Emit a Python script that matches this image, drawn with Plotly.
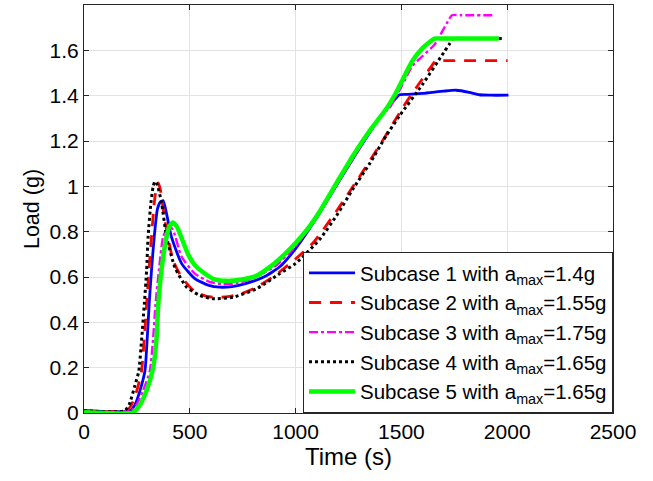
import plotly.graph_objects as go

# Subcase 1 (blue solid)
t1 = [0, 217, 241, 265, 288, 299, 308, 319, 332, 347, 360, 374, 390, 413, 461, 524, 590, 641, 700, 767, 850, 925, 1000, 1100, 1200, 1300, 1400, 1470, 1491, 1520, 1600, 1700, 1758, 1820, 1868, 1920, 2006]
y1 = [0.01, 0.01, 0.037, 0.1, 0.185, 0.333, 0.48, 0.63, 0.778, 0.9, 0.93, 0.937, 0.88, 0.778, 0.66, 0.593, 0.563, 0.555, 0.558, 0.572, 0.60, 0.645, 0.725, 0.862, 1.015, 1.165, 1.305, 1.385, 1.404, 1.406, 1.41, 1.42, 1.424, 1.415, 1.404, 1.402, 1.402]

# Subcase 2 (red dashed)
t2 = [0, 200, 225, 250, 272, 285, 296, 307, 319, 332, 342, 351, 362, 382, 421, 461, 524, 580, 630, 680, 740, 815, 900, 1000, 1082, 1200, 1300, 1400, 1522, 1600, 1640, 1663, 1700, 2002]
y2 = [0.01, 0.01, 0.037, 0.1, 0.185, 0.333, 0.48, 0.63, 0.778, 0.926, 0.995, 1.015, 0.98, 0.85, 0.674, 0.6, 0.535, 0.515, 0.51, 0.513, 0.525, 0.555, 0.605, 0.68, 0.75, 0.9, 1.04, 1.185, 1.37, 1.475, 1.527, 1.555, 1.555, 1.555]

# Subcase 3 (magenta dash-dot)
t3 = [0, 224, 248, 280, 311, 327, 338, 354, 374, 392, 406, 420, 461, 524, 590, 657, 720, 800, 900, 1000, 1100, 1200, 1300, 1400, 1443, 1500, 1553, 1600, 1656, 1715, 1739, 1780, 1939]
y3 = [0.01, 0.01, 0.037, 0.1, 0.185, 0.333, 0.48, 0.63, 0.778, 0.81, 0.82, 0.81, 0.69, 0.615, 0.58, 0.568, 0.572, 0.595, 0.645, 0.735, 0.865, 1.015, 1.165, 1.31, 1.345, 1.44, 1.532, 1.575, 1.625, 1.72, 1.755, 1.755, 1.755]

# Subcase 4 (black dotted)
t4 = [0, 193, 215, 240, 259, 272, 285, 296, 303, 316, 327, 335, 345, 366, 390, 429, 484, 547, 610, 704, 815, 925, 1000, 1113, 1200, 1270, 1350, 1428, 1491, 1600, 1700, 1725, 1745, 1790, 1985]
y4 = [0.01, 0.01, 0.04, 0.12, 0.185, 0.32, 0.48, 0.63, 0.778, 0.926, 1.0, 1.022, 1.01, 0.93, 0.778, 0.644, 0.556, 0.519, 0.504, 0.511, 0.548, 0.615, 0.66, 0.765, 0.88, 0.987, 1.10, 1.223, 1.311, 1.45, 1.59, 1.625, 1.652, 1.652, 1.652]

# Subcase 5 (green)
t5 = [0, 233, 264, 300, 327, 343, 351, 366, 390, 405, 421, 440, 492, 531, 610, 673, 740, 815, 900, 1000, 1057, 1113, 1200, 1270, 1350, 1428, 1475, 1553, 1600, 1635, 1656, 1700, 1960]
y5 = [0.003, 0.003, 0.035, 0.11, 0.2, 0.333, 0.48, 0.63, 0.778, 0.825, 0.84, 0.82, 0.70, 0.645, 0.592, 0.583, 0.588, 0.605, 0.66, 0.75, 0.812, 0.888, 1.025, 1.133, 1.245, 1.341, 1.414, 1.555, 1.61, 1.638, 1.652, 1.652, 1.652]

names = [
    "Subcase 1 with a<sub>max</sub>=1.4g",
    "Subcase 2 with a<sub>max</sub>=1.55g",
    "Subcase 3 with a<sub>max</sub>=1.75g",
    "Subcase 4 with a<sub>max</sub>=1.65g",
    "Subcase 5 with a<sub>max</sub>=1.65g",
]

x_ticks = [0, 500, 1000, 1500, 2000, 2500]
y_ticks = [0, 0.2, 0.4, 0.6, 0.8, 1, 1.2, 1.4, 1.6]
y_tick_text = ["0", "0.2", "0.4", "0.6", "0.8", "1", "1.2", "1.4", "1.6"]

FONT = "Liberation Sans, Arial, sans-serif"
SM = 0.55

fig = go.Figure()
fig.add_trace(go.Scatter(x=t1, y=y1, mode="lines", name=names[0],
                         line=dict(color="#0000ff", width=2.8, shape="spline", smoothing=SM)))
fig.add_trace(go.Scatter(x=t2, y=y2, mode="lines", name=names[1],
                         line=dict(color="#ff0000", width=2.8, dash="12px,9px", shape="spline", smoothing=SM)))
fig.add_trace(go.Scatter(x=t3, y=y3, mode="lines", name=names[2],
                         line=dict(color="#ff00ff", width=2.4, dash="9px,3px,3px,3px", shape="spline", smoothing=SM)))
fig.add_trace(go.Scatter(x=t4, y=y4, mode="lines", name=names[3],
                         line=dict(color="#000000", width=3, dash="3px,3px", shape="spline", smoothing=SM)))
fig.add_trace(go.Scatter(x=t5, y=y5, mode="lines", name=names[4],
                         line=dict(color="#00ff00", width=4.5, shape="spline", smoothing=SM)))

axis_common = dict(
    showgrid=True, gridcolor="#e3e3e3", gridwidth=1,
    showline=True, linecolor="#262626", linewidth=1, mirror="ticks",
    ticks="inside", ticklen=5, tickcolor="#262626",
    zeroline=False,
    tickfont=dict(family=FONT, size=21, color="#000000"),
)

fig.update_layout(
    width=653, height=481,
    margin=dict(l=84, r=40, t=5, b=68),
    paper_bgcolor="white", plot_bgcolor="white",
    font=dict(family=FONT, color="#000000"),
    xaxis=dict(range=[0, 2500], tickvals=x_ticks,
               title=dict(text="Time (s)", font=dict(size=24), standoff=2),
               **axis_common),
    yaxis=dict(range=[0, 1.8], tickvals=y_ticks, ticktext=y_tick_text,
               title=dict(text="Load (g)", font=dict(size=21.5), standoff=4),
               **axis_common),
    legend=dict(x=1, y=0, xanchor="right", yanchor="bottom",
                bgcolor="white", bordercolor="#262626", borderwidth=1,
                font=dict(family=FONT, size=20.5, color="#000000"),
                tracegroupgap=0, itemwidth=46),
    showlegend=True,
)

fig.write_html("out.html")
